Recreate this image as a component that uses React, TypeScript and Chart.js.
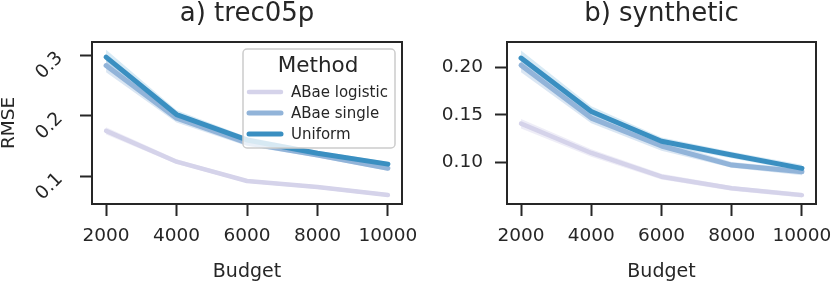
import React, { useEffect, useRef } from 'react';
import { Chart, registerables } from 'chart.js';

Chart.register(...registerables);

// ---------- data ----------
const budgets = [2000, 4000, 6000, 8000, 10000];
const xTicks = [2000, 4000, 6000, 8000, 10000];
const seriesNames = ['ABae logistic', 'ABae single', 'Uniform'];

// a) trec05p
const trecLogistic = [0.175, 0.124, 0.092, 0.082, 0.069];
const trecLogisticLo = [0.169, 0.120, 0.089, 0.079, 0.066];
const trecLogisticHi = [0.181, 0.128, 0.095, 0.085, 0.072];
const trecSingle = [0.283, 0.196, 0.155, 0.135, 0.113];
const trecSingleLo = [0.272, 0.189, 0.150, 0.131, 0.109];
const trecSingleHi = [0.294, 0.203, 0.160, 0.139, 0.117];
const trecUniform = [0.297, 0.202, 0.160, 0.138, 0.120];
const trecUniformLo = [0.287, 0.195, 0.155, 0.134, 0.116];
const trecUniformHi = [0.309, 0.209, 0.165, 0.142, 0.124];
const trecYTicks = [0.1, 0.2, 0.3];
const trecYLabels = ['0.1', '0.2', '0.3'];

// b) synthetic
const synLogistic = [0.1406, 0.1096, 0.0845, 0.0722, 0.065];
const synLogisticLo = [0.1356, 0.1056, 0.0815, 0.0697, 0.0625];
const synLogisticHi = [0.1456, 0.1136, 0.0875, 0.0747, 0.0675];
const synSingle = [0.2025, 0.1465, 0.117, 0.0968, 0.0897];
const synSingleLo = [0.195, 0.141, 0.112, 0.094, 0.086];
const synSingleHi = [0.210, 0.152, 0.122, 0.100, 0.093];
const synUniform = [0.210, 0.1535, 0.122, 0.1074, 0.0933];
const synUniformLo = [0.202, 0.148, 0.118, 0.104, 0.090];
const synUniformHi = [0.218, 0.159, 0.126, 0.111, 0.097];
const synYTicks = [0.10, 0.15, 0.20];
const synYLabels = ['0.10', '0.15', '0.20'];

// ---------- style ----------
const FONT = "'DejaVu Sans', sans-serif";
const INK = '#262626';
const lineColors = ['#d5d3ea', '#92b4d9', '#3a8fc1'];
const lineWidths = [4.5, 5, 5];
const bandColors = ['rgba(205,203,232,0.35)', 'rgba(140,178,218,0.32)', 'rgba(110,178,218,0.28)'];
const H = 282;

type Panel = {
  title: string;
  x0: number;
  width: number;
  area: { left: number; right: number; top: number; bottom: number };
  yMin: number;
  yMax: number;
  yTicks: number[];
  yLabels: string[];
  yRot: number;
  yPad: number;
  yTitle: string | null;
  lines: number[][];
  los: number[][];
  his: number[][];
  legend: boolean;
};

const panels: Panel[] = [
  {
    title: 'a) trec05p',
    x0: 0,
    width: 420,
    area: { left: 92, right: 402, top: 42, bottom: 204 },
    yMin: 0.054,
    yMax: 0.322,
    yTicks: trecYTicks,
    yLabels: trecYLabels,
    yRot: 45,
    yPad: 20,
    yTitle: 'RMSE',
    lines: [trecLogistic, trecSingle, trecUniform],
    los: [trecLogisticLo, trecSingleLo, trecUniformLo],
    his: [trecLogisticHi, trecSingleHi, trecUniformHi],
    legend: true,
  },
  {
    title: 'b) synthetic',
    x0: 420,
    width: 412,
    area: { left: 87, right: 396, top: 42, bottom: 204 },
    yMin: 0.0556,
    yMax: 0.227,
    yTicks: synYTicks,
    yLabels: synYLabels,
    yRot: 0,
    yPad: 12,
    yTitle: null,
    lines: [synLogistic, synSingle, synUniform],
    los: [synLogisticLo, synSingleLo, synUniformLo],
    his: [synLogisticHi, synSingleHi, synUniformHi],
    legend: false,
  },
];

function buildDatasets(p: Panel) {
  const ds: any[] = [];
  for (let i = 0; i < 3; i++) {
    ds.push({
      label: seriesNames[i] + ' lo',
      data: budgets.map((b, k) => ({ x: b, y: p.los[i][k] })),
      borderWidth: 0,
      pointRadius: 0,
      fill: false,
      order: 10 + i * 2,
    });
    ds.push({
      label: seriesNames[i] + ' hi',
      data: budgets.map((b, k) => ({ x: b, y: p.his[i][k] })),
      borderWidth: 0,
      pointRadius: 0,
      fill: '-1',
      backgroundColor: bandColors[i],
      order: 10 + i * 2,
    });
  }
  for (let i = 0; i < 3; i++) {
    ds.push({
      label: seriesNames[i],
      data: budgets.map((b, k) => ({ x: b, y: p.lines[i][k] })),
      borderColor: lineColors[i],
      borderWidth: lineWidths[i],
      borderCapStyle: 'round',
      borderJoinStyle: 'round',
      pointRadius: 0,
      fill: false,
      tension: 0,
      order: 3 - i,
    });
  }
  return ds;
}

function decorPlugin(p: Panel) {
  return {
    id: 'decor' + p.x0,
    afterDatasetsDraw(chart: any) {
      const { ctx, chartArea: a } = chart;
      ctx.save();
      // frame
      ctx.strokeStyle = INK;
      ctx.lineWidth = 2;
      ctx.strokeRect(a.left, a.top, a.right - a.left, a.bottom - a.top);
      // title
      ctx.fillStyle = INK;
      ctx.font = `26px ${FONT}`;
      ctx.textAlign = 'center';
      ctx.textBaseline = 'middle';
      ctx.fillText(p.title, (a.left + a.right) / 2, 14);
      // legend
      if (p.legend) {
        const bx = 243, by = 49, bw = 152, bh = 99;
        ctx.beginPath();
        if (ctx.roundRect) ctx.roundRect(bx, by, bw, bh, 4);
        else ctx.rect(bx, by, bw, bh);
        ctx.fillStyle = 'rgba(255,255,255,0.8)';
        ctx.fill();
        ctx.strokeStyle = '#cccccc';
        ctx.lineWidth = 1.5;
        ctx.stroke();
        ctx.fillStyle = INK;
        ctx.font = `21.5px ${FONT}`;
        ctx.textAlign = 'center';
        ctx.fillText('Method', bx + bw / 2 - 1, 66);
        const ys = [92, 113, 134];
        for (let i = 0; i < 3; i++) {
          ctx.beginPath();
          ctx.strokeStyle = lineColors[i];
          ctx.lineWidth = lineWidths[i];
          ctx.lineCap = 'round';
          ctx.moveTo(249, ys[i]);
          ctx.lineTo(281, ys[i]);
          ctx.stroke();
          ctx.fillStyle = INK;
          ctx.font = `15px ${FONT}`;
          ctx.textAlign = 'left';
          ctx.fillText(seriesNames[i], 291, ys[i] + 1);
        }
      }
      ctx.restore();
    },
  };
}

function PanelChart({ p }: { p: Panel }) {
  const ref = useRef<HTMLCanvasElement | null>(null);
  useEffect(() => {
    if (!ref.current) return;
    const tickFont = { family: FONT, size: 18.5 };
    const chart = new Chart(ref.current, {
      type: 'line',
      data: { datasets: buildDatasets(p) },
      plugins: [decorPlugin(p)],
      options: {
        responsive: false,
        animation: false,
        events: [],
        layout: { padding: { left: 0, top: p.area.top, right: p.width - p.area.right, bottom: 0 } },
        plugins: { legend: { display: false }, tooltip: { enabled: false }, title: { display: false } },
        scales: {
          x: {
            type: 'linear',
            min: 1600,
            max: 10400,
            afterBuildTicks: (s: any) => {
              s.ticks = xTicks.map((v) => ({ value: v }));
            },
            afterFit: (s: any) => {
              s.height = H - p.area.bottom;
              s.paddingLeft = 0;
              s.paddingRight = 0;
            },
            ticks: {
              callback: (v: any) => String(v),
              font: tickFont,
              color: INK,
              padding: 9,
              minRotation: 0,
              maxRotation: 0,
              autoSkip: false,
            },
            grid: { drawOnChartArea: false, drawTicks: true, tickLength: 12, tickWidth: 2, tickColor: INK },
            border: { display: false },
            title: { display: true, text: 'Budget', font: { family: FONT, size: 19, lineHeight: 1.0 }, color: INK, padding: 0 },
          },
          y: {
            type: 'linear',
            min: p.yMin,
            max: p.yMax,
            afterBuildTicks: (s: any) => {
              s.ticks = p.yTicks.map((v) => ({ value: v }));
            },
            afterFit: (s: any) => {
              s.width = p.area.left;
              s.paddingTop = 0;
              s.paddingBottom = 0;
            },
            ticks: {
              callback: (v: any) => {
                const i = p.yTicks.findIndex((t) => Math.abs(t - v) < 1e-9);
                return i >= 0 ? p.yLabels[i] : '';
              },
              font: tickFont,
              color: INK,
              padding: p.yPad,
              minRotation: p.yRot,
              maxRotation: p.yRot,
              autoSkip: false,
            },
            grid: { drawOnChartArea: false, drawTicks: true, tickLength: 12, tickWidth: 2, tickColor: INK },
            border: { display: false },
            title: p.yTitle
              ? { display: true, text: p.yTitle, font: { family: FONT, size: 18.5, lineHeight: 1.0 }, color: INK, padding: 0 }
              : { display: false },
          },
        },
      } as any,
    });
    return () => chart.destroy();
  }, [p]);
  return (
    <div style={{ position: 'absolute', left: p.x0, top: 0, width: p.width, height: H }}>
      <canvas ref={ref} width={p.width} height={H} style={{ display: 'block' }} />
    </div>
  );
}

export default function App() {
  return (
    <div style={{ position: 'fixed', left: 0, top: 0, width: 832, height: H, background: '#ffffff', overflow: 'hidden' }}>
      {panels.map((p) => (
        <PanelChart key={p.title} p={p} />
      ))}
    </div>
  );
}
